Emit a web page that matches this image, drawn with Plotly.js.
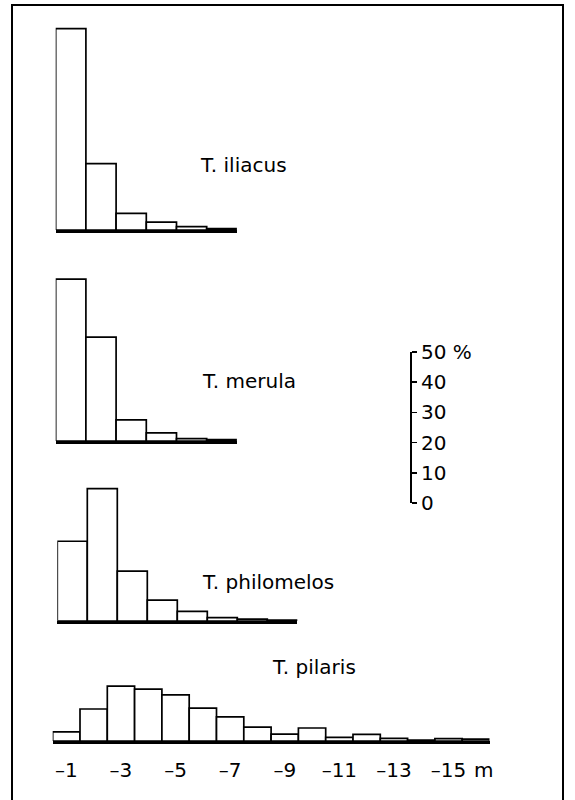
<!DOCTYPE html>
<html>
<head>
<meta charset="utf-8">
<script src="https://cdn.plot.ly/plotly-3.0.1.min.js"></script>
<style>html,body{margin:0;padding:0;background:#fff;}#chart{width:575px;height:800px;}</style>
</head>
<body>
<div id="chart"></div>
<script>
// Depth bins (m), 1 m classes
var depthBins = [1,2,3,4,5,6,7,8,9,10,11,12,13,14,15,16];
var depthTickVals = [1,3,5,7,9,11,13,15];
var depthTickText = ["–1","–3","–5","–7","–9","–11","–13","–15"];

// Percent per depth class
var iliacus    = [66.7, 22.0, 5.5, 2.6, 1.1, 0.5];
var merula     = [53.6, 34.4, 7.0, 2.7, 0.8, 0.5];
var philomelos = [26.4, 43.8, 16.5, 6.9, 3.2, 1.1, 0.6, 0.3];
var pilaris    = [3.0, 10.6, 18.2, 17.2, 15.3, 10.9, 8.0, 4.6, 2.3, 4.3, 1.2, 2.2, 0.9, 0.3, 0.8, 0.6];

var speciesNames = ["T. iliacus","T. merula","T. philomelos","T. pilaris"];
var scaleVals = [0,10,20,30,40,50];
var scaleText = ["0","10","20","30","40","50 %"];

var W = 575, H = 800;
function fx(px){ return px / W; }
function fy(px){ return 1 - px / H; }
var pxPerPct = 3.02;
var FONT = "DejaVu Sans, Arial, sans-serif";

var series = [iliacus, merula, philomelos, pilaris];
var geo = [
  {x0:55.7, bw:30.2, base:230, ymax:70},
  {x0:55.7, bw:30.2, base:441, ymax:70},
  {x0:57.3, bw:30.0, base:621, ymax:50},
  {x0:52.7, bw:27.3, base:741, ymax:25}
];

var traces = [];
var layout = {
  width: W, height: H,
  margin: {l:0, r:0, t:0, b:0},
  paper_bgcolor: "#fff", plot_bgcolor: "rgba(0,0,0,0)",
  showlegend: false,
  bargap: 0,
  font: {family: FONT, size: 20, color: "#000"},
  annotations: [], shapes: []
};

series.forEach(function(vals, i){
  var n = vals.length;
  var g = geo[i];
  var xa = i === 0 ? "x" : "x" + (i+1);
  var ya = i === 0 ? "y" : "y" + (i+1);
  traces.push({
    type: "bar",
    x: depthBins.slice(0, n),
    y: vals,
    width: 1,
    xaxis: xa, yaxis: ya,
    marker: {color: "#fff", line: {color: "#000", width: 1.7}},
    hoverinfo: "skip"
  });
  var xk = i === 0 ? "xaxis" : "xaxis" + (i+1);
  var yk = i === 0 ? "yaxis" : "yaxis" + (i+1);
  var isLast = (i === 3);
  layout[xk] = {
    domain: [fx(g.x0), fx(g.x0 + n * g.bw)],
    range: [0.5, n + 0.5],
    anchor: ya,
    showline: true, linecolor: "#000", linewidth: 2.5,
    showgrid: false, zeroline: false,
    showticklabels: isLast,
    tickvals: isLast ? depthTickVals : [],
    ticktext: isLast ? depthTickText : [],
    ticks: isLast ? "outside" : "",
    ticklen: 9, tickcolor: "rgba(0,0,0,0)",
    tickfont: {family: FONT, size: 20, color: "#000"},
    fixedrange: true
  };
  var top = g.base - g.ymax * pxPerPct;
  layout[yk] = {
    domain: [fy(g.base), fy(top)],
    range: [0, g.ymax],
    anchor: xa,
    visible: false,
    fixedrange: true
  };
});

var labelPos = [[198,165],[200,381],[200,582],[270,667]];
speciesNames.forEach(function(nm, i){
  layout.annotations.push({
    xref: "paper", yref: "paper",
    x: fx(labelPos[i][0]), y: fy(labelPos[i][1]),
    xanchor: "left", yanchor: "middle",
    text: nm, showarrow: false,
    font: {family: FONT, size: 20, color: "#000"}
  });
});
layout.annotations.push({
  xref: "paper", yref: "paper",
  x: fx(483), y: fy(770), xanchor: "center", yanchor: "middle",
  text: "m", showarrow: false,
  font: {family: FONT, size: 20, color: "#000"}
});

// scale bar axis
traces.push({
  type: "scatter", x: [0], y: [0], xaxis: "x5", yaxis: "y5",
  mode: "markers", marker: {opacity: 0}, hoverinfo: "skip"
});
layout.xaxis5 = {domain: [fx(411), fx(420)], range: [0,1], visible: false, anchor: "y5", fixedrange: true};
layout.yaxis5 = {
  domain: [fy(503), fy(352)],
  range: [0, 50],
  anchor: "free", position: fx(411), side: "right",
  showline: true, linecolor: "#000", linewidth: 2,
  ticks: "outside", ticklen: 5, tickwidth: 1.5, tickcolor: "#000",
  tickvals: scaleVals, ticktext: scaleText,
  showgrid: false, zeroline: false,
  tickfont: {family: FONT, size: 20, color: "#000"},
  fixedrange: true
};

// frame
layout.shapes.push({
  type: "rect", xref: "paper", yref: "paper",
  x0: fx(12), x1: fx(563), y0: fy(803), y1: fy(5),
  line: {color: "#000", width: 2}, fillcolor: "rgba(0,0,0,0)"
});

Plotly.newPlot("chart", traces, layout, {staticPlot: true, displayModeBar: false});
</script>
</body>
</html>
